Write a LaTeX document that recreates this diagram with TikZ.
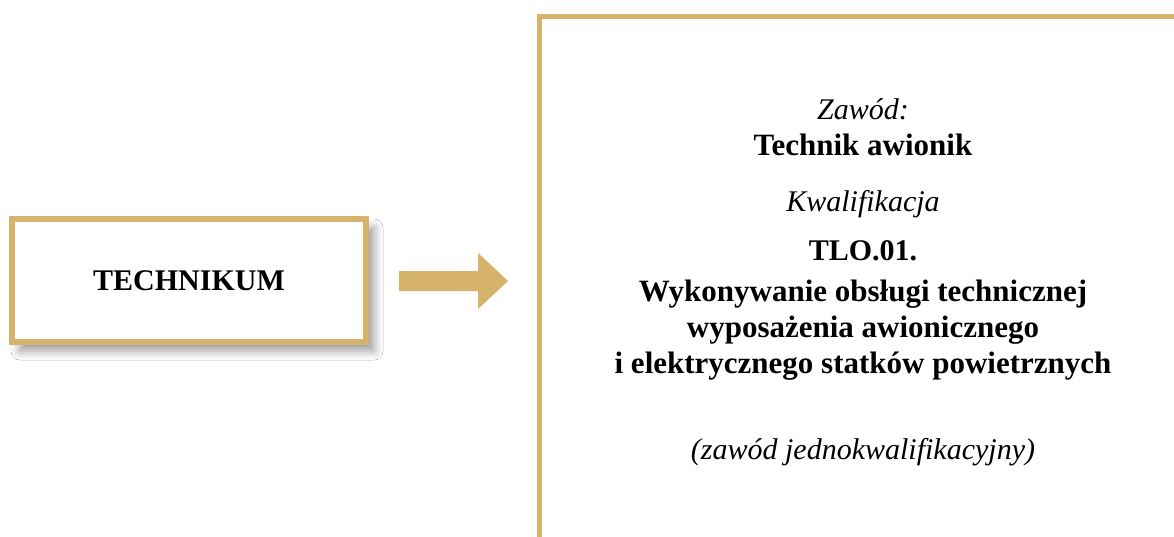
\documentclass[tikz,border=0pt]{standalone}
\usepackage{fontspec}
\setmainfont{Liberation Serif}
\usetikzlibrary{shadows.blur}
\definecolor{gold}{HTML}{D5B36A}
\begin{document}
\begin{tikzpicture}[x=1pt,y=-1pt,
  goldbox/.style={draw=gold,line width=6pt,fill=white,inner sep=0pt,
    minimum width=354pt,minimum height=123pt,font=\fontsize{30}{34}\selectfont\bfseries,
    blur shadow={shadow xshift=8pt,shadow yshift=-9pt,shadow blur radius=9pt,shadow opacity=40}},
  frame/.style={draw=gold,line width=5pt,miter limit=10},
  blockarrow/.style={fill=gold,draw=none},
  txt/.style={anchor=base,inner sep=0pt,font=\fontsize{30}{34}\selectfont},
  btxt/.style={txt,font=\fontsize{31}{35}\selectfont\bfseries},
  itxt/.style={txt,font=\fontsize{30}{34}\selectfont\itshape}]
\useasboundingbox (0,0) rectangle (1174,536);
\fill[white] (0,0) rectangle (1174,536);
% left box
\node[goldbox] (tech) at (189,280.5) {TECHNIKUM};
% block arrow
\coordinate (a1) at (399,271);
\fill[blockarrow] (a1) -- (478,271) -- (478,253) -- (508,281) -- (478,309) -- (478,291) -- (399,291) -- cycle;
% right frame
\coordinate (f1) at (539,537);
\coordinate (f2) at (539,16.5);
\coordinate (f3) at (1175,16.5);
\draw[frame] (f1) -- (f2) -- (f3);
% texts
\node[itxt] (t1) at (863,119.5) {Zawód:};
\node[btxt] (t2) at (863,155) {Technik awionik};
\node[itxt] (t3) at (863,211.5) {Kwalifikacja};
\node[btxt,font=\fontsize{30}{34}\selectfont\bfseries] (t4) at (863,260) {TLO.01.};
\node[btxt] (t5) at (863,301) {Wykonywanie obsługi technicznej};
\node[btxt] (t6) at (863,337.5) {wyposażenia awionicznego};
\node[btxt] (t7) at (863,373.5) {i elektrycznego statków powietrznych};
\node[itxt] (t8) at (863,459) {(zawód jednokwalifikacyjny)};
\end{tikzpicture}
\end{document}
